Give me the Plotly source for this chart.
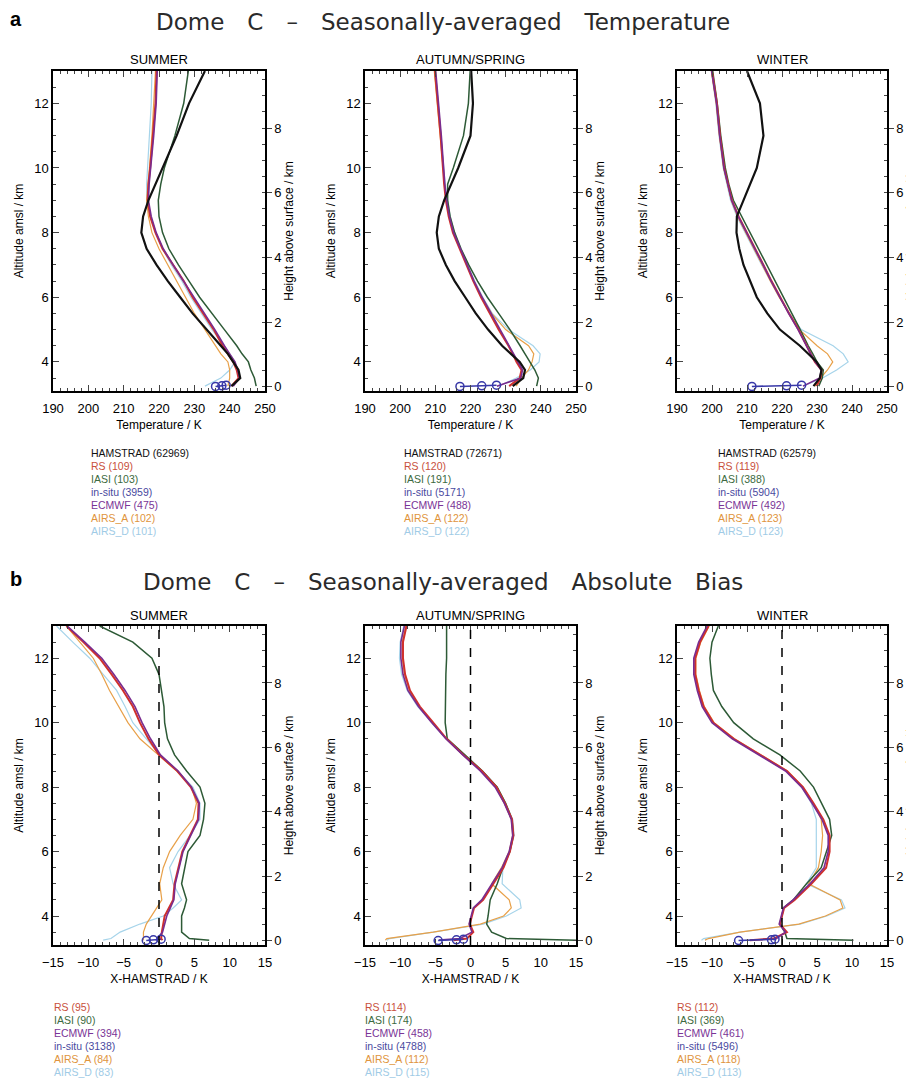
import plotly.graph_objects as go

# altitude levels (km amsl) used when reading the profiles off the figure
ALT_T = [3.25, 3.5, 3.75, 4.0, 4.25, 4.5, 5.0, 5.5, 6.0, 6.5, 7.0, 7.5, 8.0, 8.5, 9.0, 9.5, 10.0, 11.0, 12.0, 13.0]
ALT_B = [3.25, 3.3, 3.5, 3.75, 4.0, 4.25, 4.5, 5.0, 5.5, 6.0, 6.5, 7.0, 7.5, 8.0, 8.5, 9.0, 9.5, 10.0, 10.5, 11.0, 11.5, 12.0, 12.5, 13.0]
INSITU_ALT = [3.24, 3.26, 3.28]
SURFACE = 3.233

SEASONS = ["SUMMER", "AUTUMN/SPRING", "WINTER"]

# ---- (a) temperature, K ----
ham_sum = [240.5, 243, 242.5, 241, 239.5, 237.5, 233.5, 229.5, 226, 222.5, 219.3, 216.5, 215, 215.5, 217, 219, 221, 225, 228.5, 233]
rs_sum = [240.5, 242.5, 242, 241, 239.5, 238, 235.5, 232.5, 229.5, 227, 224, 221, 219, 217.5, 216.8, 217, 217.5, 218.3, 219, 219.3]
iasi_sum = [247.5, 247, 246, 245.3, 243.5, 242, 238.5, 235, 231.5, 228.5, 225.5, 222.8, 221, 220, 219.8, 220.5, 221.5, 224.5, 227, 228.3]
ecmwf_sum = [241, 242.8, 242.3, 241.5, 240, 238.5, 235.8, 232.8, 229.8, 227, 224, 221.2, 219.2, 217.8, 217, 217.2, 217.7, 218.5, 219.2, 219.5]
airsa_sum = [239.5, 240, 240, 239.5, 237.5, 236, 233, 230, 227.5, 225, 222.5, 220, 218, 217, 216.5, 216.8, 217.3, 218, 218.5, 219]
airsd_sum = [233, 237.5, 240, 241.5, 240, 238.5, 235, 232, 229, 226.5, 223.5, 221, 219, 217.5, 216.5, 216.5, 216.8, 217.3, 217.8, 218]
insitu_sum = [236, 237.8, 239]

ham_aut = [232, 235, 235.5, 234, 231.5, 229, 225, 221.5, 218.5, 215.5, 213, 211, 210.4, 211, 212.5, 214.5, 216.5, 220, 220.7, 220.2]
rs_aut = [231, 234, 234.5, 233.1, 232, 230.8, 228, 225.5, 223, 220.8, 218.8, 216.8, 215, 213.8, 213, 212.5, 212.2, 211.5, 210.7, 209.9]
iasi_aut = [238.8, 239.3, 238.3, 237, 235.5, 234.1, 231.2, 228, 224.8, 222, 219.5, 217.3, 215.5, 214.2, 213.5, 213.5, 215.1, 218, 219.4, 219.9]
ecmwf_aut = [227.5, 234.3, 234.8, 233.5, 232.3, 231, 228.3, 225.8, 223.3, 221, 219, 217, 215.2, 214, 213.2, 212.7, 212.4, 211.7, 210.9, 210.1]
airsa_aut = [233, 234.5, 236.5, 237.5, 238, 236.5, 230, 226, 223.3, 221, 219, 217, 215.2, 214, 213.2, 212.6, 212.2, 211.4, 210.5, 209.7]
airsd_aut = [228, 233, 237, 239.5, 239.8, 237.8, 230.8, 226.2, 223.5, 221.2, 219.2, 217.2, 215.4, 214.2, 213.4, 212.8, 212.4, 211.6, 210.7, 209.8]
insitu_aut = [217, 223.2, 227.4]

ham_win = [229, 230.8, 231.3, 229.9, 227.5, 225.1, 219.4, 215.8, 212.8, 210.8, 209, 207.8, 207, 207.1, 209, 211, 212.8, 214.7, 213.7, 210]
rs_win = [229.9, 231, 231.3, 229.4, 228.2, 227, 224.7, 222, 219.4, 217, 214.7, 212.3, 209.9, 207.6, 205.7, 204.5, 203.5, 202.3, 201.4, 200]
iasi_win = [230.5, 231.5, 231.8, 230, 228.8, 227.5, 225.2, 222.8, 220.4, 218, 215.6, 213.2, 210.9, 208.4, 206.1, 204.8, 203.8, 202.5, 201.5, 200.2]
ecmwf_win = [226, 230.8, 231.2, 229.5, 228.2, 227, 224.6, 221.9, 219.3, 216.9, 214.6, 212.2, 209.8, 207.5, 205.6, 204.4, 203.4, 202.2, 201.3, 199.9]
airsa_win = [229.5, 231, 233, 234.5, 233, 230, 225, 222, 219.2, 216.7, 214.3, 212, 209.6, 207.3, 205.5, 204.3, 203.3, 202.1, 201.2, 199.8]
airsd_win = [226, 231.6, 235.6, 238.9, 237.5, 234.6, 225.5, 222.2, 219.2, 216.6, 214.2, 211.8, 209.4, 207.1, 205.3, 204.2, 203.2, 202, 201.1, 199.8]
insitu_win = [211.4, 221.3, 225.6]

# ---- (b) bias X - HAMSTRAD, K ----
rs_b_sum = [0.5, 0.3, 0.4, 0.6, 0.8, 1.4, 2.0, 2.2, 2.8, 3.3, 4.4, 5.5, 5.6, 4.5, 2.6, 0.0, -1.5, -2.7, -3.7, -5.1, -6.7, -8.4, -10.7, -13.1]
ecmwf_b_sum = [-0.5, -0.2, 0.5, 0.8, 1.1, 1.6, 2.1, 2.3, 2.9, 3.4, 4.5, 5.6, 5.7, 4.6, 2.7, 0.2, -1.2, -2.4, -3.4, -4.8, -6.4, -8.1, -10.5, -13.0]
iasi_b_sum = [7.1, 4.3, 3.2, 3.2, 3.2, 3.6, 3.9, 3.2, 3.6, 4.1, 5.8, 6.3, 6.5, 5.8, 3.9, 2.2, 1.2, 0.8, 0.7, 0.4, 0.0, -1.0, -3.7, -8.4]
airsa_b_sum = [-2.2, -2.2, -2.2, -1.8, -1.1, -0.3, 0.4, 0.1, 0.6, 1.5, 3.0, 4.8, 5.3, 4.6, 2.5, -0.1, -2.7, -4.4, -5.7, -7.0, -8.1, -9.3, -11.2, -13.1]
airsd_b_sum = [-7.9, -6.8, -5.5, -2.7, 0.6, 2.0, 3.2, 2.0, 1.5, 2.7, 4.4, 5.8, 5.8, 4.8, 2.6, 0.1, -1.8, -3.7, -4.8, -6.0, -7.9, -9.8, -12.2, -14.5]
insitu_b_sum = [-1.8, -0.8, 0.3]

rs_b_aut = [-2.4, -0.5, 0.4, -0.1, 0.2, 0.5, 1.8, 3.3, 4.7, 5.6, 6.1, 5.9, 4.9, 3.7, 1.6, -1.0, -3.4, -5.3, -7.2, -8.6, -9.3, -9.6, -9.6, -9.1]
ecmwf_b_aut = [-4.5, -1.5, 0.2, -0.2, 0.1, 0.4, 1.6, 3.1, 4.5, 5.5, 6.0, 5.8, 4.8, 3.5, 1.4, -1.1, -3.5, -5.5, -7.4, -8.9, -9.6, -9.9, -9.9, -9.4]
iasi_b_aut = [15, 5.1, 3.0, 2.3, 2.5, 2.7, 2.8, 3.8, 4.6, 5.6, 6.1, 5.9, 5.0, 3.8, 1.7, -0.8, -3.3, -3.6, -3.6, -3.6, -3.5, -3.4, -3.4, -3.4]
airsa_b_aut = [-12.1, -11.9, -5.3, 1.4, 4.7, 5.8, 5.5, 3.0, 4.4, 5.5, 6.0, 5.8, 4.8, 3.6, 1.5, -1.0, -3.4, -5.4, -7.3, -8.7, -9.4, -9.7, -9.7, -9.2]
airsd_b_aut = [-11.9, -11.5, -5.3, 1.8, 5.1, 7.2, 7.0, 4.5, 4.6, 5.6, 6.2, 6.0, 5.0, 3.8, 1.7, -0.9, -3.5, -5.5, -7.5, -9.0, -9.8, -10.1, -10.0, -9.5]
insitu_b_aut = [-4.6, -2.0, -1.0]

rs_b_win = [-4.6, -1.2, 0.7, -0.3, 0.0, 0.3, 1.8, 4.2, 6.3, 6.8, 6.8, 5.9, 4.5, 3.0, 0.7, -3.1, -6.9, -9.8, -11.2, -11.9, -12.4, -12.4, -11.7, -10.5]
ecmwf_b_win = [-1.2, -0.8, 0.5, -0.4, -0.1, 0.2, 1.6, 4.0, 6.0, 6.6, 6.6, 5.7, 4.3, 2.8, 0.5, -3.3, -7.1, -10.0, -11.4, -12.1, -12.6, -12.6, -11.9, -10.7]
iasi_b_win = [10.2, 0.7, 0.4, -0.3, 0.0, 0.2, 1.6, 3.5, 5.6, 6.4, 7.1, 6.8, 5.6, 4.5, 2.6, -0.3, -4.1, -6.9, -8.6, -9.8, -10.1, -10.3, -10.0, -9.1]
airsa_b_win = [-11.0, -10.5, -6.0, 2.4, 6.2, 8.7, 8.3, 3.8, 5.2, 5.6, 5.8, 5.6, 4.5, 3.0, 0.8, -3.0, -6.8, -9.7, -11.1, -11.8, -12.3, -12.3, -11.6, -10.4]
airsd_b_win = [-11.5, -11.2, -6.0, 2.6, 6.4, 9.0, 8.5, 3.5, 4.9, 4.9, 4.9, 4.9, 4.2, 2.8, 0.6, -3.2, -7.0, -9.9, -11.3, -12.0, -12.5, -12.5, -11.8, -10.6]
insitu_b_win = [-6.2, -1.5, -1.0]

# number of coincidences shown under each panel
top_counts = [
    [("HAMSTRAD", 62969), ("RS", 109), ("IASI", 103), ("in-situ", 3959), ("ECMWF", 475), ("AIRS_A", 102), ("AIRS_D", 101)],
    [("HAMSTRAD", 72671), ("RS", 120), ("IASI", 191), ("in-situ", 5171), ("ECMWF", 488), ("AIRS_A", 122), ("AIRS_D", 122)],
    [("HAMSTRAD", 62579), ("RS", 119), ("IASI", 388), ("in-situ", 5904), ("ECMWF", 492), ("AIRS_A", 123), ("AIRS_D", 123)],
]
bot_counts = [
    [("RS", 95), ("IASI", 90), ("ECMWF", 394), ("in-situ", 3138), ("AIRS_A", 84), ("AIRS_D", 83)],
    [("RS", 114), ("IASI", 174), ("ECMWF", 458), ("in-situ", 4788), ("AIRS_A", 112), ("AIRS_D", 115)],
    [("RS", 112), ("IASI", 369), ("ECMWF", 461), ("in-situ", 5496), ("AIRS_A", 118), ("AIRS_D", 113)],
]

COL = {"HAMSTRAD": "#111111", "RS": "#d0302c", "IASI": "#2d5a36", "in-situ": "#3838a8",
       "ECMWF": "#7a2c8e", "AIRS_A": "#e8a048", "AIRS_D": "#a6d4ea"}
TXT = {"HAMSTRAD": "#111111", "RS": "#c8503c", "IASI": "#3c6a40", "in-situ": "#4a4aa0",
       "ECMWF": "#7a3496", "AIRS_A": "#e0943c", "AIRS_D": "#a0cbe6"}
WIDTH = {"HAMSTRAD": 2.2, "RS": 2.0, "IASI": 1.5, "in-situ": 1.6, "ECMWF": 1.6, "AIRS_A": 1.2, "AIRS_D": 1.2}

top_data = [
    {"AIRS_D": airsd_sum, "AIRS_A": airsa_sum, "IASI": iasi_sum, "RS": rs_sum, "ECMWF": ecmwf_sum, "HAMSTRAD": ham_sum, "in-situ": insitu_sum},
    {"AIRS_D": airsd_aut, "AIRS_A": airsa_aut, "IASI": iasi_aut, "RS": rs_aut, "ECMWF": ecmwf_aut, "HAMSTRAD": ham_aut, "in-situ": insitu_aut},
    {"AIRS_D": airsd_win, "AIRS_A": airsa_win, "IASI": iasi_win, "RS": rs_win, "ECMWF": ecmwf_win, "HAMSTRAD": ham_win, "in-situ": insitu_win},
]
bot_data = [
    {"AIRS_D": airsd_b_sum, "AIRS_A": airsa_b_sum, "IASI": iasi_b_sum, "RS": rs_b_sum, "ECMWF": ecmwf_b_sum, "in-situ": insitu_b_sum},
    {"AIRS_D": airsd_b_aut, "AIRS_A": airsa_b_aut, "IASI": iasi_b_aut, "RS": rs_b_aut, "ECMWF": ecmwf_b_aut, "in-situ": insitu_b_aut},
    {"AIRS_D": airsd_b_win, "AIRS_A": airsa_b_win, "IASI": iasi_b_win, "RS": rs_b_win, "ECMWF": ecmwf_b_win, "in-situ": insitu_b_win},
]

W, H = 914, 1078
OFF = 8  # the page body adds an 8px margin, so place everything 8px up/left
FONT = "Liberation Sans"


def px(x):
    return (x - OFF) / W


def py(y):
    return 1 - (y - OFF) / H


X_PIX = [(53, 265), (365, 576), (677, 887)]
Y_PIX = [(71, 391), (626, 945)]

fig = go.Figure()
layout = dict(width=W, height=H, autosize=False, margin=dict(l=0, r=0, t=0, b=0),
              plot_bgcolor="white", paper_bgcolor="white", showlegend=False,
              font=dict(family=FONT, color="black", size=12))
annotations = []
shapes = []

for row in range(2):
    for col in range(3):
        i = row * 3 + col + 1
        xa, ya, yr = f"x{i}", f"y{i}", f"y{i + 6}"
        data = top_data[col] if row == 0 else bot_data[col]
        alts = ALT_T if row == 0 else ALT_B
        for name, vals in data.items():
            if name == "in-situ":
                fig.add_trace(go.Scatter(x=vals, y=INSITU_ALT, xaxis=xa, yaxis=ya, mode="lines+markers",
                                         line=dict(color=COL[name], width=WIDTH[name]),
                                         marker=dict(symbol="circle-open", size=8, color=COL[name],
                                                     line=dict(width=1.5)),
                                         hoverinfo="skip"))
            else:
                fig.add_trace(go.Scatter(x=vals, y=alts, xaxis=xa, yaxis=ya, mode="lines",
                                         line=dict(color=COL[name], width=WIDTH[name]), hoverinfo="skip"))
        # invisible trace so the height-above-surface axis is drawn
        ref = data["RS"]
        fig.add_trace(go.Scatter(x=ref, y=[a - SURFACE for a in alts], xaxis=xa, yaxis=yr,
                                 mode="lines", opacity=0, hoverinfo="skip"))

        xd = [px(X_PIX[col][0]), px(X_PIX[col][1])]
        yd = [py(Y_PIX[row][1]), py(Y_PIX[row][0])]
        if row == 0:
            xr, dt, mdt, xt = [190, 250], 10, 2, "Temperature / K"
        else:
            xr, dt, mdt, xt = [-15, 15], 5, 1, "X-HAMSTRAD / K"
        layout[f"xaxis{i}"] = dict(domain=xd, range=xr, dtick=dt, anchor=ya, ticks="inside", ticklen=6,
                                   tickwidth=1.2, minor=dict(dtick=mdt, ticks="inside", ticklen=3),
                                   showline=True, linecolor="black", linewidth=1.5, mirror="ticks",
                                   showgrid=False, zeroline=False, automargin=False, ticklabelstandoff=5,
                                   tickfont=dict(size=13, family=FONT),
                                   title=dict(text=xt, font=dict(size=12, family=FONT), standoff=5))
        layout[f"yaxis{i}"] = dict(domain=yd, range=[3.1, 13], dtick=2, tick0=0, anchor=xa, ticks="inside",
                                   ticklen=6, tickwidth=1.2, minor=dict(dtick=0.5, ticks="inside", ticklen=3),
                                   showline=True, linecolor="black", linewidth=1.5, showgrid=False,
                                   zeroline=False, automargin=False, tickfont=dict(size=13, family=FONT),
                                   title=dict(text="Altitude amsl / km", font=dict(size=12, family=FONT),
                                              standoff=8))
        layout[f"yaxis{i + 6}"] = dict(overlaying=ya, anchor=xa, side="right",
                                       range=[3.1 - SURFACE, 13 - SURFACE], dtick=2, tick0=0,
                                       ticks="outside", ticklen=5, tickwidth=1.2,
                                       minor=dict(dtick=0.5, ticks="inside", ticklen=3),
                                       showline=True, linecolor="black", linewidth=1.5, showgrid=False,
                                       zeroline=False, automargin=False, tickfont=dict(size=13, family=FONT),
                                       title=dict(text="Height above surface / km",
                                                  font=dict(size=12, family=FONT), standoff=4))
        # season label
        annotations.append(dict(text=SEASONS[col], x=(xd[0] + xd[1]) / 2, y=py(Y_PIX[row][0] - 11),
                                xref="paper", yref="paper", showarrow=False, xanchor="center",
                                yanchor="middle", font=dict(size=13, family=FONT)))
        if row == 1:
            shapes.append(dict(type="line", xref=xa, yref=f"{ya} domain", x0=0, x1=0, y0=0, y1=1,
                               line=dict(color="black", width=1.5, dash="dash")))

# count lists below the panels
for col in range(3):
    x0 = [89, 402, 716][col]
    for k, (name, n) in enumerate(top_counts[col]):
        annotations.append(dict(text=f"{name} ({n})", x=px(x0), y=py(453 + 13 * k), xref="paper",
                                yref="paper", showarrow=False, xanchor="left", yanchor="middle",
                                font=dict(size=10.5, family=FONT, color=TXT[name])))
    x0 = [52, 363, 675][col]
    for k, (name, n) in enumerate(bot_counts[col]):
        annotations.append(dict(text=f"{name} ({n})", x=px(x0), y=py(1007 + 13 * k), xref="paper",
                                yref="paper", showarrow=False, xanchor="left", yanchor="middle",
                                font=dict(size=10.5, family=FONT, color=TXT[name])))

# panel letters and titles (wide word spacing as in the original)
SP = "\u2003"
for letter, title, ytop in [("a", SP.join(["Dome", "C", "–", "Seasonally-averaged", "Temperature"]), 22),
                            ("b", SP.join(["Dome", "C", "–", "Seasonally-averaged", "Absolute", "Bias"]), 582)]:
    annotations.append(dict(text=f"<b>{letter}</b>", x=px(OFF), y=py(ytop - 3), xref="paper", yref="paper",
                            showarrow=False, xanchor="left", yanchor="middle",
                            font=dict(size=20, family=FONT)))
    annotations.append(dict(text=title, x=px(443), y=py(ytop), xref="paper", yref="paper",
                            showarrow=False, xanchor="center", yanchor="middle",
                            font=dict(size=23, family="DejaVu Sans", color="#2a2a2a")))

layout["annotations"] = annotations
layout["shapes"] = shapes
fig.update_layout(**layout)
fig.write_html("out.html")
